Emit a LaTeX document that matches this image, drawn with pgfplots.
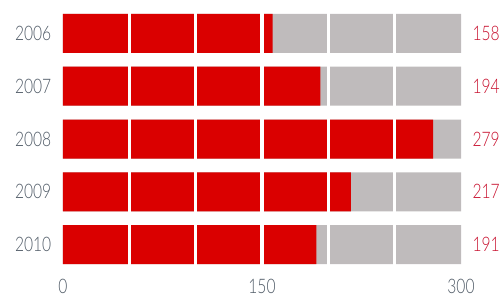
\documentclass[border=0pt]{standalone}
\usepackage{fontspec}
\setmainfont{Lato}[UprightFont={* Light},FakeStretch=0.78]
\usepackage{pgfplots}
\pgfplotsset{compat=1.18}
\definecolor{barred}{HTML}{DA0000}
\definecolor{bargray}{HTML}{BFBBBC}
\definecolor{labgray}{HTML}{4F5A66}
\definecolor{valred}{HTML}{C8102E}
\begin{document}
\begin{tikzpicture}
\begin{axis}[
  scale only axis,
  width=398pt, height=264pt,
  xbar, bar shift=0pt, bar width=39pt,
  xmin=0, xmax=300,
  ymin=-0.5, ymax=4.5, y dir=reverse,
  enlargelimits=false,
  axis on top,
  xtick={0,150,300},
  ytick={0,1,2,3,4},
  yticklabels={2006,2007,2008,2009,2010},
  extra x ticks={50,100,150,200,250},
  extra x tick labels={},
  extra x tick style={grid=major, major grid style={white, line width=3.5pt}, tick style={draw=none}},
  tick style={draw=none},
  every tick label/.append style={font=\fontsize{20}{20}\selectfont},
  xticklabel style={text=labgray, yshift=-5pt},
  yticklabel style={text=labgray, xshift=-4pt},
  /pgf/number format/assume math mode=true,
  axis line style={draw=none},
]
\addplot[fill=bargray, draw=none,
  point meta=explicit,
  nodes near coords={\pgfmathprintnumber{\pgfplotspointmeta}},
  nodes near coords style={anchor=west, xshift=8pt, text=valred, font=\fontsize{20}{20}\selectfont},
] table[meta=v] {
x y v
300 0 158
300 1 194
300 2 279
300 3 217
300 4 191
};
\addplot[fill=barred, draw=none] table {
x y
158 0
194 1
279 2
217 3
191 4
};
\path (rel axis cs:0,0) ++(-63pt,-26pt) coordinate (bl);
\path (rel axis cs:1,1) ++(39pt,7pt) coordinate (tr);
\end{axis}
\pgfresetboundingbox
\useasboundingbox (bl) rectangle (tr);
\end{tikzpicture}
\end{document}
